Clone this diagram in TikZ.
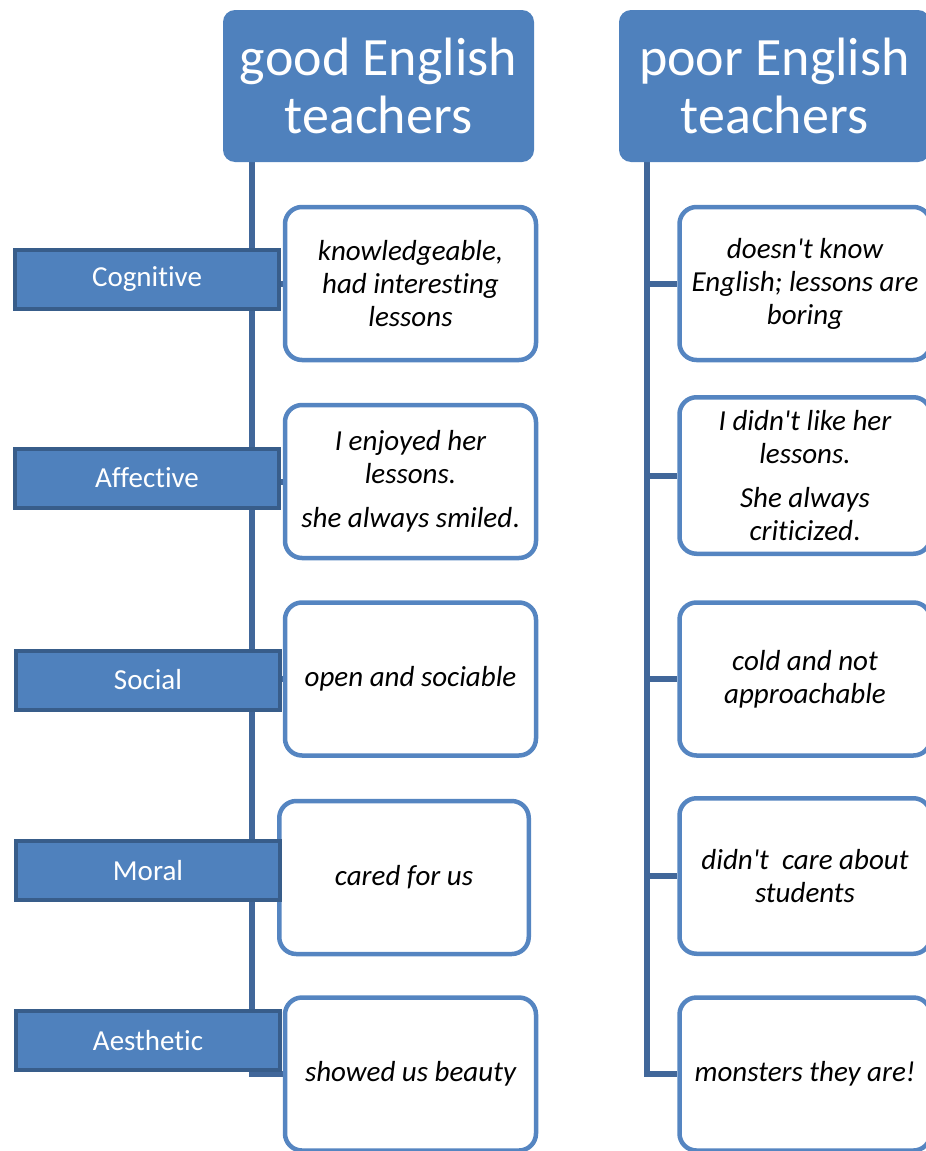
\documentclass[tikz,border=0pt]{standalone}
\usepackage{fontspec}
\setmainfont{Carlito}[Ligatures={TeXOff,NoCommon}]
\usetikzlibrary{backgrounds}
\definecolor{headblue}{HTML}{4F81BD}
\definecolor{tabedge}{HTML}{385D8A}
\definecolor{trunkblue}{HTML}{41679A}
\definecolor{cardedge}{HTML}{5585C1}
\tikzset{
  header/.style={fill=headblue, rounded corners=12pt, minimum width=311, minimum height=152,
    inner sep=0pt, text=white, align=center, font=\fontsize{54}{58}\selectfont},
  tab/.style={fill=headblue, draw=tabedge, line width=4pt, minimum width=264, minimum height=59,
    inner sep=0pt, text=white, font=\fontsize{29}{33}\selectfont},
  card/.style={fill=white, draw=cardedge, line width=4.5pt, rounded corners=17pt, minimum width=251,
    minimum height=153, inner sep=0pt, align=center, font=\itshape\fontsize{29}{33}\selectfont},
  trunk/.style={draw=trunkblue, line width=6pt}
}
\begin{document}
\begin{tikzpicture}[x=1pt,y=-1pt]
                \clip (0,0) rectangle (926,1151);

                % Drawing headers
                \node (good) at (378.5,86) [header] {good English\\teachers};
                \node (poor) at (774.5,86) [header] {poor English\\teachers};
                \coordinate (gtop) at (252,162);
                \coordinate (ptop) at (647,162);

                % Drawing cards of good teachers
                \node (g1) at (410.5,283.5) [card] {knowledgeable,\\had interesting\\lessons};
                \node (g2) at (410.5,481.5) [card] {I enjoyed her\\lessons.\\[11pt]she always smiled{\upshape .}};
                \node (g3) at (410.5,679) [card] {open and sociable};
                \node (g4) at (404,877.5) [card, minimum width=249.5] {cared for us};
                \node (g5) at (410.5,1074) [card] {showed us beauty};

                % Drawing cards of poor teachers
                \node (p1) at (805,283.5) [card] {doesn't know\\English; lessons are\\boring};
                \node (p2) at (805,475.5) [card, minimum height=156.5] {I didn't like her\\lessons.\\[11pt]She always\\criticized{\upshape .}};
                \node (p3) at (805,679) [card] {cold and not\\approachable};
                \node (p4) at (805,876) [card, minimum height=155.5] {didn't\ \ care about\\students};
                \node (p5) at (805,1074) [card] {monsters they are!};

                % Drawing tabs
                \node (cog) at (147,279.5) [tab] {Cognitive};
                \node (aff) at (147,478) [tab] {Affective};
                \node (soc) at (148,680) [tab] {Social};
                \node (mor) at (148,870.5) [tab] {Moral};
                \node (aes) at (148,1040.5) [tab] {Aesthetic};

                % Drawing trunks and branches
                \begin{pgfonlayer}{background}
                \draw [trunk] (gtop) |- (g5.west);
                \draw [trunk] (ptop) |- (p5.west);
                \foreach \k in {1,...,4}{
                  \draw [trunk] (gtop |- g\k.west) -- (g\k.west);
                  \draw [trunk] (ptop |- p\k.west) -- (p\k.west);
                }
                \end{pgfonlayer}
\end{tikzpicture}
\end{document}
